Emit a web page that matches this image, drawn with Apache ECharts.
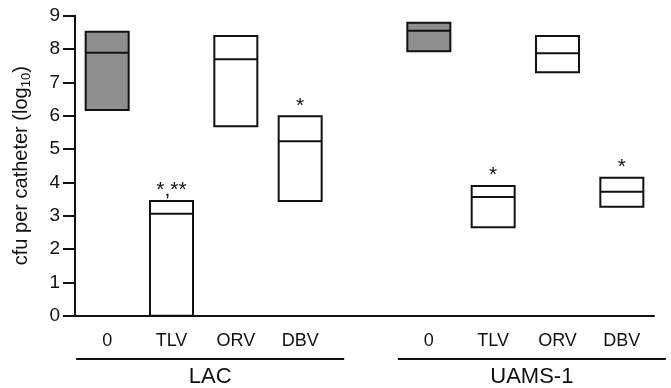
<!DOCTYPE html>
<html>
<head>
<meta charset="utf-8">
<script src="https://cdn.jsdelivr.net/npm/echarts@6/dist/echarts.min.js"></script>
<style>
  html, body { margin: 0; padding: 0; background: #fff; }
  #chart { width: 671px; height: 388px; }
</style>
</head>
<body>
<div id="chart"></div>
<script>
// treatment per strain, blank slot separates the two strains
var categories = ['0', 'TLV', 'ORV', 'DBV', '', '0', 'TLV', 'ORV', 'DBV']
var lows = [6.17, 0, 5.68, 3.44, null, 7.93, 2.65, 7.30, 3.27]
var medians = [7.89, 3.06, 7.69, 5.23, null, 8.55, 3.56, 7.87, 3.72]
var highs = [8.52, 3.44, 8.39, 5.98, null, 8.79, 3.89, 8.39, 4.14]
var marks = ['', '*,**', '', '*', '', '', '*', '', '*']
var shaded = [1, 0, 0, 0, 0, 1, 0, 0, 0]
var groups = ['LAC', 'UAMS-1']
var groupRanges = [[0, 3], [5, 8]]
var yTicks = [0, 1, 2, 3, 4, 5, 6, 7, 8, 9]

var font = 'Liberation Sans, Arial, sans-serif'

var boxData = []
for (var i = 0; i < categories.length; i++) {
  if (lows[i] == null) continue
  boxData.push([i, lows[i], medians[i], highs[i], shaded[i]])
}

function renderBox(params, api) {
  var idx = api.value(0)
  var bottom = api.coord([idx, api.value(1)])
  var mid = api.coord([idx, api.value(2)])
  var top = api.coord([idx, api.value(3)])
  var w = 43
  var x = bottom[0] - w / 2
  var children = [
    {
      type: 'rect',
      shape: { x: x, y: top[1], width: w, height: bottom[1] - top[1] },
      style: { fill: api.value(4) ? '#8e8e8e' : '#fff', stroke: '#111', lineWidth: 2 }
    },
    {
      type: 'line',
      shape: { x1: x, y1: mid[1], x2: x + w, y2: mid[1] },
      style: { stroke: '#111', lineWidth: 2 }
    }
  ]
  if (marks[idx]) {
    children.push({
      type: 'text',
      style: {
        text: marks[idx], x: top[0], y: top[1],
        align: 'center', verticalAlign: 'bottom',
        font: '21px ' + font, fill: '#111'
      }
    })
  }
  return { type: 'group', children: children }
}

var chart = echarts.init(document.getElementById('chart'))
chart.setOption({
  animation: false,
  backgroundColor: '#fff',
  grid: { left: 75, right: 17, top: 15.7, bottom: 72.3 },
  xAxis: {
    type: 'category',
    data: categories,
    axisLine: { lineStyle: { color: '#111', width: 2 } },
    axisTick: {
      alignWithLabel: true,
      length: 10,
      interval: function (i, v) { return v !== '' },
      lineStyle: { color: '#111', width: 2 }
    },
    axisLabel: { interval: 0, margin: 16, color: '#111', fontSize: 18, fontFamily: font },
    splitLine: { show: false }
  },
  yAxis: {
    type: 'value',
    min: 0,
    max: 9,
    interval: 1,
    name: '{a|cfu per catheter (log}{s|10}{a|)}',
    nameLocation: 'middle',
    nameGap: 42,
    nameTextStyle: {
      rich: {
        a: { fontSize: 20, fontFamily: font, color: '#111' },
        s: { fontSize: 13, fontFamily: font, color: '#111', padding: [11, 0, 0, 0] }
      }
    },
    axisLine: { show: true, lineStyle: { color: '#111', width: 2 } },
    axisTick: { show: true, length: 12, lineStyle: { color: '#111', width: 2 } },
    axisLabel: {
      margin: 15, color: '#111', fontSize: 19, fontFamily: font,
      formatter: function (v) { return yTicks.indexOf(v) >= 0 ? String(v) : '' }
    },
    splitLine: { show: false }
  },
  series: [{
    type: 'custom',
    renderItem: renderBox,
    data: boxData,
    encode: { x: 0, y: [1, 2, 3] }
  }]
})

// strain labels under the treatment labels
var graphics = []
groupRanges.forEach(function (r, k) {
  var x1 = chart.convertToPixel({ xAxisIndex: 0 }, r[0]) - 31
  var x2 = chart.convertToPixel({ xAxisIndex: 0 }, r[1]) + 44
  graphics.push({
    type: 'line',
    shape: { x1: x1, y1: 359, x2: x2, y2: 359 },
    style: { stroke: '#111', lineWidth: 2 }
  })
  graphics.push({
    type: 'text',
    style: {
      text: groups[k], x: (x1 + x2) / 2, y: 377,
      align: 'center', verticalAlign: 'middle',
      font: '22px ' + font, fill: '#111'
    }
  })
})
chart.setOption({ graphic: graphics })
</script>
</body>
</html>
